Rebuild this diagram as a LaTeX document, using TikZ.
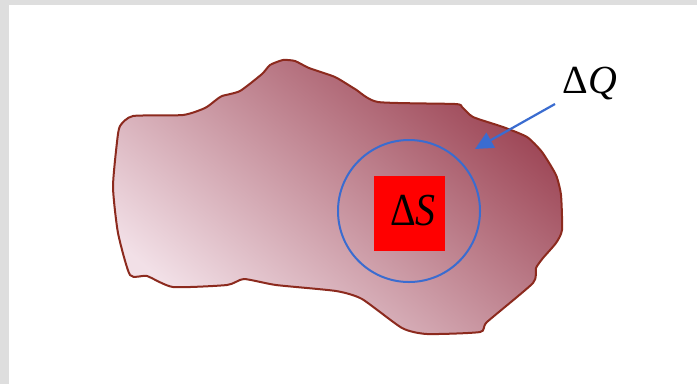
\documentclass[tikz,border=0pt]{standalone}
\usepackage{fontspec}
\setmainfont{Liberation Serif}
\usetikzlibrary{arrows.meta}
\definecolor{edgered}{RGB}{140,42,30}
\definecolor{darkrose}{RGB}{156,68,84}
\definecolor{palerose}{RGB}{242,224,231}
\definecolor{fluxblue}{RGB}{58,108,208}
\definecolor{framegray}{RGB}{222,222,222}
\tikzset{
  bigtext/.style={font=\fontsize{40}{40}\selectfont, inner sep=0pt},
  fluxarrow/.style={fluxblue, line width=2.2bp, -{Triangle[length=18bp,width=17bp]}}
}
\begin{document}
\begin{tikzpicture}[x=1bp,y=-1bp]
\useasboundingbox (0,0) rectangle (697,384);
\fill[framegray] (0,0) rectangle (697,5);
\fill[framegray] (0,0) rectangle (9,384);
% the surface
\draw[edgered, line width=2bp, bottom color=palerose, top color=darkrose, shading angle=-40]
  plot[smooth cycle, tension=.35] coordinates {(133,116) (183,115) (205,108) (216,100) (222,96) (240,91) (262,74) (270,65) (283,60) (295,61) (309,68) (335,77) (355,89) (378,102) (455,104) (462,107) (473,117) (503,127) (527,137) (542,152) (556,175) (561,195) (562,230) (556,243) (543,258) (536,268) (533,283) (487,322) (480,332) (427,334) (402,328) (362,299) (336,291) (276,285) (244,279) (227,285) (173,287) (147,276) (130,275) (118,233) (113,187) (117,142) (120,126)};
\node[draw=fluxblue, line width=2bp, circle, minimum size=142bp, inner sep=0pt] (gauss) at (409,211) {};
\node[fill=red, minimum width=71bp, minimum height=75bp, inner sep=0pt] (patch) at (409,213) {};
\node[bigtext, yscale=1.15] (ds) at (413,211) {Δ\textit{S}};
\node[bigtext] (dq) at (590,84) {Δ\textit{Q}};
\coordinate (qtail) at (555,104);
\coordinate (qtip) at (475,149);
\draw[fluxarrow] (qtail) -- (qtip);
\end{tikzpicture}
\end{document}
